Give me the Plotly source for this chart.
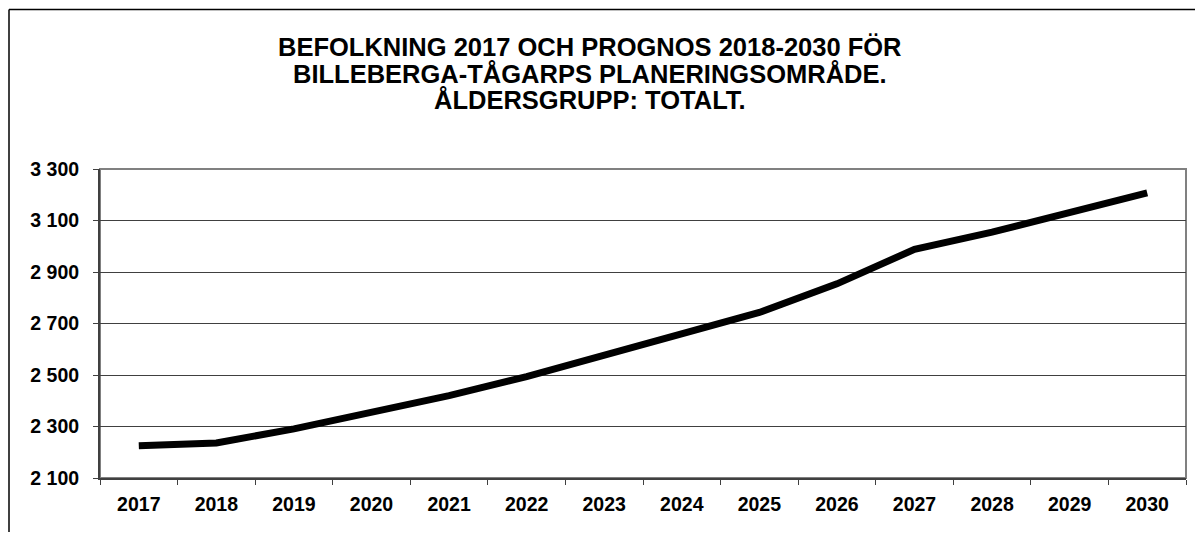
import plotly.graph_objects as go

years = ["2017", "2018", "2019", "2020", "2021", "2022", "2023",
         "2024", "2025", "2026", "2027", "2028", "2029", "2030"]
population = [2225, 2236, 2291, 2353, 2420, 2494, 2578,
              2665, 2743, 2854, 2988, 3055, 3133, 3207]
title_lines = ["BEFOLKNING 2017 OCH PROGNOS 2018-2030 FÖR",
               "BILLEBERGA-TÅGARPS PLANERINGSOMRÅDE.",
               "ÅLDERSGRUPP: TOTALT."]
y_ticks = [2100, 2300, 2500, 2700, 2900, 3100, 3300]

OFF = 8  # page body margin
W, H = 1203 - OFF, 540 - 2 * OFF
# target plot area in screen pixels
PX0, PX1, PY0, PY1 = 100, 1186, 169, 478
ML = PX0 - OFF
MT = PY0 - OFF
MR = W - (PX1 - OFF)
MB = H - (PY1 - OFF)
PW, PH = PX1 - PX0, PY1 - PY0

def px_x(px):
    return (px - PX0) / PW

def px_y(py):
    return (PY1 - py) / PH

FONT = "Liberation Sans, Arial, sans-serif"

fig = go.Figure()
fig.add_trace(go.Scatter(
    x=years, y=population, mode="lines",
    line=dict(color="black", width=7, shape="linear"),
    showlegend=False, hoverinfo="skip",
))

annotations = []
for line, cy in zip(title_lines, [47, 73.5, 100]):
    annotations.append(dict(
        text=line, xref="paper", yref="paper",
        x=px_x(590), y=px_y(cy), xanchor="center", yanchor="middle",
        showarrow=False,
        font=dict(family=FONT, size=25.5, color="black", weight="bold"),
    ))

shapes = [
    dict(type="rect", xref="paper", yref="paper", x0=0, y0=0, x1=1, y1=1,
         line=dict(color="#808080", width=2), layer="below"),
    # outer chart frame: top and left edges (others fall outside the picture)
    dict(type="line", xref="paper", yref="paper",
         x0=px_x(9), y0=px_y(9.5), x1=px_x(1203), y1=px_y(9.5),
         line=dict(color="black", width=1.5)),
    dict(type="line", xref="paper", yref="paper",
         x0=px_x(9), y0=px_y(9.5), x1=px_x(9), y1=px_y(540),
         line=dict(color="black", width=1.5)),
]

fig.update_layout(
    width=W, height=H,
    margin=dict(l=ML, r=MR, t=MT, b=MB, autoexpand=False),
    paper_bgcolor="white", plot_bgcolor="white",
    separators=". ",
    annotations=annotations, shapes=shapes,
    font=dict(family=FONT, color="black"),
)
fig.update_xaxes(
    type="category", tickson="boundaries", ticks="outside", ticklen=5,
    tickcolor="#404040", showgrid=False, showline=True,
    linecolor="#404040", linewidth=2, zeroline=False,
    tickfont=dict(family=FONT, size=19.5, color="black", weight="bold"),
    ticklabelstandoff=8,
    range=[-0.5, len(years) - 0.5],
)
fig.update_yaxes(
    range=[2100, 3300], tickvals=y_ticks, tickformat=",d",
    ticks="outside", ticklen=5, tickcolor="#404040",
    showgrid=True, gridcolor="#404040", gridwidth=1,
    showline=True, linecolor="#404040", linewidth=2, zeroline=False,
    tickfont=dict(family=FONT, size=19.5, color="black", weight="bold"),
    ticklabelstandoff=10,
)

fig.write_html("out.html")
